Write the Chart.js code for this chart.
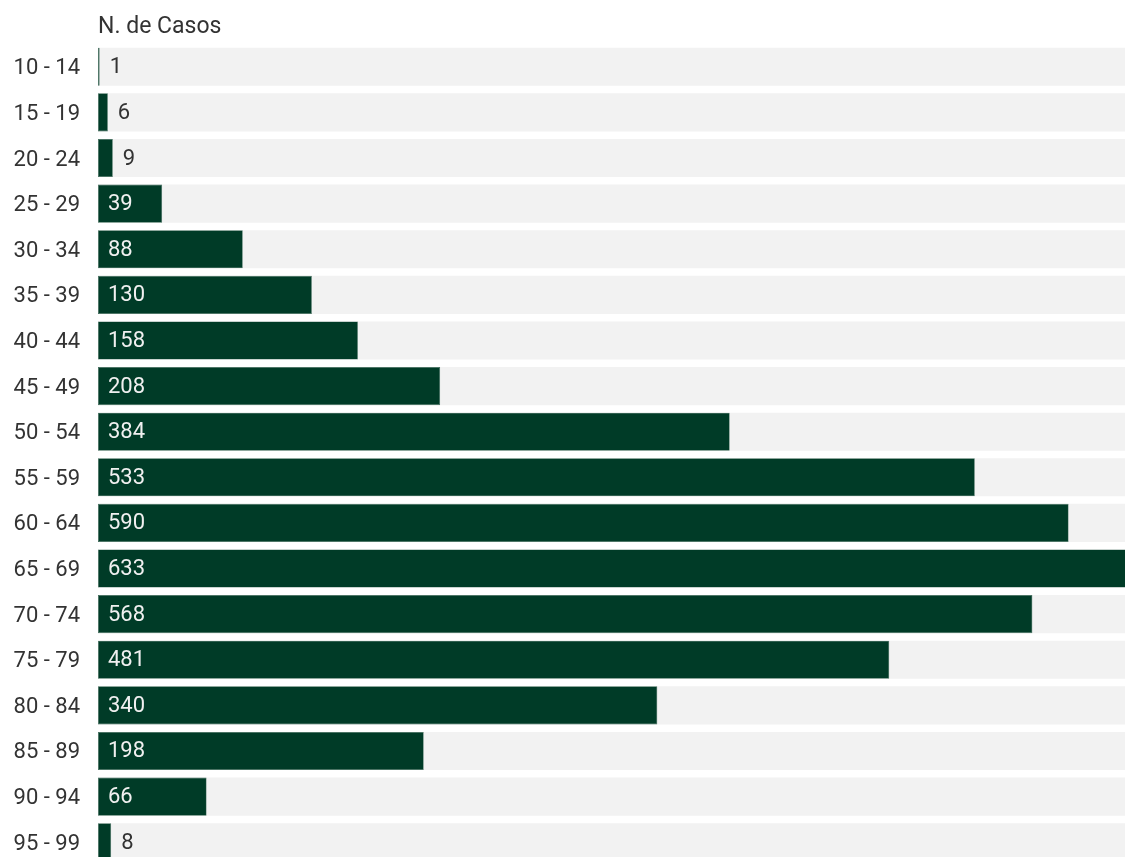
<!DOCTYPE html>
<html>
<head>
<meta charset="utf-8">
<script src="https://cdn.jsdelivr.net/npm/chart.js@4"></script>
<style>
  html, body { margin: 0; padding: 0; background: #fff; overflow: hidden; }
  canvas { display: block; }
</style>
</head>
<body>
<canvas id="chart" width="1125" height="865"></canvas>
<script>
// age groups and case counts
const ageGroups = ['10 - 14', '15 - 19', '20 - 24', '25 - 29', '30 - 34', '35 - 39', '40 - 44', '45 - 49', '50 - 54',
  '55 - 59', '60 - 64', '65 - 69', '70 - 74', '75 - 79', '80 - 84', '85 - 89', '90 - 94', '95 - 99'];
const cases = [1, 6, 9, 39, 88, 130, 158, 208, 384, 533, 590, 633, 568, 481, 340, 198, 66, 8];
const axisMax = 624.3;
const track = ageGroups.map(() => axisMax);

// draws the number next to / inside each bar
const valueLabels = {
  id: 'valueLabels',
  afterDatasetsDraw(chart) {
    const ctx = chart.ctx;
    const meta = chart.getDatasetMeta(0);
    ctx.save();
    ctx.font = '22px Roboto';
    ctx.textBaseline = 'middle';
    ctx.textAlign = 'left';
    meta.data.forEach((bar, i) => {
      const v = cases[i];
      const w = bar.x - bar.base;
      if (w > 40) {
        ctx.fillStyle = '#f0f0f0';
        ctx.fillText(v, bar.base + 10, bar.y + 1);
      } else {
        ctx.fillStyle = '#333';
        ctx.fillText(v, bar.x + 10, bar.y + 1);
      }
    });
    ctx.restore();
  }
};

new Chart(document.getElementById('chart'), {
  type: 'bar',
  data: {
    labels: ageGroups,
    datasets: [
      {
        data: cases,
        backgroundColor: '#003b27',
        borderColor: '#3d6a58',
        borderWidth: 0.6,
        borderSkipped: false,
        grouped: false,
        order: 1,
        categoryPercentage: 1,
        barPercentage: 0.835
      },
      {
        data: track,
        backgroundColor: '#f2f2f2',
        borderWidth: 0,
        grouped: false,
        order: 2,
        categoryPercentage: 1,
        barPercentage: 0.835
      }
    ]
  },
  options: {
    indexAxis: 'y',
    responsive: false,
    animation: false,
    layout: { padding: 0 },
    plugins: {
      legend: { display: false },
      tooltip: { enabled: false }
    },
    scales: {
      x: {
        position: 'top',
        min: 0,
        max: axisMax,
        grid: { display: false },
        border: { display: false },
        ticks: { display: false },
        title: {
          display: true,
          text: 'N. de Casos',
          align: 'start',
          color: '#333',
          font: { family: 'Roboto', size: 23 },
          padding: { top: 13, bottom: 4 }
        },
        afterFit(scale) { scale.height = 44; }
      },
      y: {
        grid: { display: false, drawTicks: false },
        border: { display: false },
        ticks: {
          color: '#333',
          font: { family: 'Roboto', size: 22 },
          padding: 18,
          labelOffset: 2,
          autoSkip: false
        },
        afterFit(scale) {
          scale.width = 98;
          scale.paddingTop = 0;
          scale.paddingBottom = 0;
        }
      }
    }
  },
  plugins: [valueLabels]
});
</script>
</body>
</html>
